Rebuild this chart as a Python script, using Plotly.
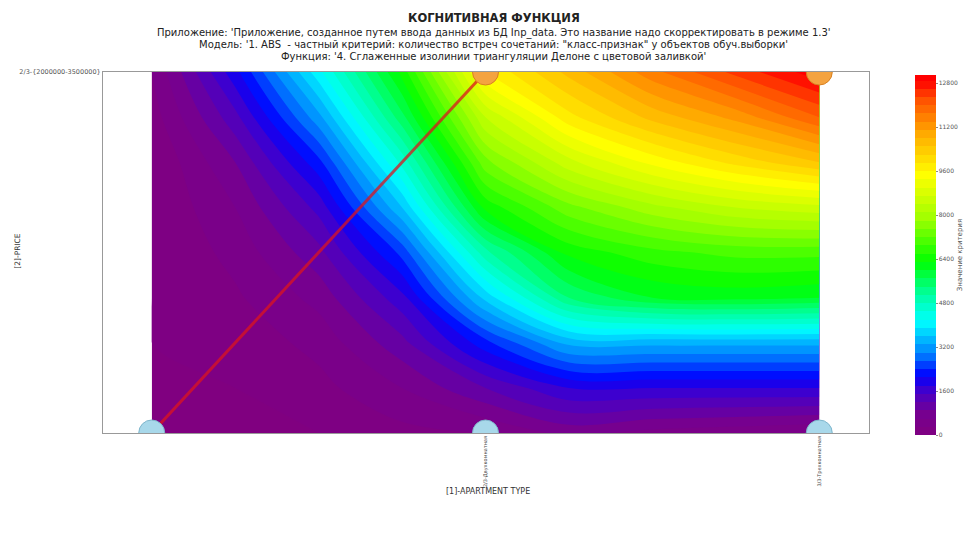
import plotly.graph_objects as go

# ---- data -------------------------------------------------------------
# category positions of the two factors
apartment_pos = [1, 2, 3]
apartment_labels = ["1/3-Однокомнатная", "2/3-Двухкомнатная", "3/3-Трехкомнатная"]
price_pos = [1, 2]
price_labels = ["1/3-{1000000-2000000}", "2/3-{2000000-3500000}"]

# observed class-feature points (x = apartment type, y = price)
pts_low_x = [1, 2, 3]
pts_low_y = [1, 1, 1]
pts_high_x = [2, 3]
pts_high_y = [2, 2]

# smoothed surface sampled on a regular grid
grid_x = [1.0, 1.25, 1.5, 1.75, 2.0, 2.25, 2.5, 2.75, 3.0]
grid_y = [1.0, 1.125, 1.25, 1.375, 1.5, 1.625, 1.75, 1.875, 2.0]
# one list per column, values from y=2.0 (top) down to y=1.0 (bottom)
col_x100 = [300, 150, 0, 0, 0, 0, 0, 0, 0]
col_x125 = [2000, 1400, 900, 600, 400, 250, 100, 0, 0]
col_x150 = [4100, 3200, 2300, 1600, 1100, 700, 400, 200, 0]
col_x175 = [6400, 5600, 4600, 3600, 2500, 1700, 1100, 600, 200]
col_x200 = [9600, 8400, 7400, 6400, 5000, 3700, 2300, 1200, 300]
col_x225 = [10600, 9800, 8600, 7400, 6400, 5400, 3400, 1800, 700]
col_x250 = [11600, 10600, 9400, 8000, 6800, 6000, 3400, 1800, 500]
col_x275 = [12400, 11200, 10000, 8400, 7000, 6100, 3400, 1800, 400]
col_x300 = [13100, 12000, 10500, 8600, 7000, 6000, 3400, 1800, 300]

cbar_ticks = [0, 1600, 3200, 4800, 6400, 8000, 9600, 11200, 12800]
z_max = 13100

columns = [col_x100, col_x125, col_x150, col_x175, col_x200,
           col_x225, col_x250, col_x275, col_x300]
# rows ordered bottom -> top to match grid_y
z_rows = [[col[len(grid_y) - 1 - j] for col in columns] for j in range(len(grid_y))]

# purple -> blue -> cyan -> green -> yellow -> orange -> red
stops = [
    (0, "#800080"), (800, "#760090"), (1600, "#4600c8"), (2200, "#0000ff"),
    (3000, "#0080ff"), (4200, "#00ffff"), (5200, "#00ffa0"), (6400, "#00ff00"),
    (8000, "#a0ff00"), (9600, "#ffff00"), (11200, "#ffa500"), (12400, "#ff5000"),
    (13100, "#ff0000"),
]
colorscale = [[v / z_max, c] for v, c in stops]

fig = go.Figure()

fig.add_trace(go.Contour(
    x=grid_x, y=grid_y, z=z_rows,
    colorscale=colorscale, zmin=0, zmax=z_max, zauto=False,
    autocontour=False,
    contours=dict(start=0, end=z_max, size=300, coloring="fill", showlines=False),
    line=dict(width=0),
    colorbar=dict(
        x=1.0596, xanchor="left", xpad=0,
        y=0.493, yanchor="middle", ypad=0,
        len=0.997, lenmode="fraction", thickness=21,
        outlinewidth=0,
        tickvals=cbar_ticks, ticktext=[str(t) for t in cbar_ticks],
        tickfont=dict(size=6, color="#555", family="DejaVu Sans"),
        ticks="outside", ticklen=2, tickcolor="#888",
        title=dict(text="Значение критерия", side="right",
                   font=dict(size=7, color="#555", family="DejaVu Sans")),
    ),
    hoverinfo="skip",
))

# diagonal link between the first and the fourth point
fig.add_trace(go.Scatter(
    x=[pts_low_x[0], pts_high_x[0]], y=[pts_low_y[0], pts_high_y[0]],
    mode="lines", line=dict(color="rgba(220,20,30,0.75)", width=3),
    showlegend=False, hoverinfo="skip",
))

fig.add_trace(go.Scatter(
    x=pts_low_x, y=pts_low_y, mode="markers",
    marker=dict(size=26, color="#a8d8ea", line=dict(color="#7fb6cc", width=1)),
    showlegend=False, cliponaxis=True,
))
fig.add_trace(go.Scatter(
    x=pts_high_x, y=pts_high_y, mode="markers",
    marker=dict(size=26, color="#f4a340", line=dict(color="#d98020", width=1)),
    showlegend=False, cliponaxis=True,
))

font_family = "DejaVu Sans"
fig.update_layout(
    width=976, height=555,
    margin=dict(l=103, r=101, t=72, b=122),
    paper_bgcolor="white", plot_bgcolor="white",
    font=dict(family=font_family, color="#222"),
    showlegend=False,
    xaxis=dict(
        range=[0.854, 3.149], tickvals=apartment_pos[1:], ticktext=apartment_labels[1:],
        tickangle=-90, tickfont=dict(size=5, color="#444"),
        showgrid=False, zeroline=False,
        showline=True, linecolor="#999", linewidth=1, mirror=True,
        ticks="", fixedrange=True,
    ),
    yaxis=dict(
        range=[1, 2], tickvals=price_pos[1:], ticktext=price_labels[1:],
        tickfont=dict(size=6.5, color="#555"),
        showgrid=False, zeroline=False,
        showline=True, linecolor="#999", linewidth=1, mirror=True,
        ticks="", fixedrange=True,
    ),
)

title_lines = [
    ("<b>КОГНИТИВНАЯ ФУНКЦИЯ</b>", 1.149, 11.5),
    ("Приложение: 'Приложение, созданное путем ввода данных из БД Inp_data. "
     "Это название надо скорректировать в режиме 1.3'", 1.108, 10),
    ("Модель: '1. ABS  - частный критерий: количество встреч сочетаний: "
     "\"класс-признак\" у объектов обуч.выборки'", 1.075, 10),
    ("Функция: '4. Сглаженные изолинии триангуляции Делоне с цветовой заливкой'",
     1.043, 10),
]
for text, ypos, size in title_lines:
    fig.add_annotation(
        text=text, x=0.51, y=ypos, xref="paper", yref="paper",
        xanchor="center", yanchor="middle", showarrow=False,
        font=dict(size=size, color="#222", family=font_family),
    )

fig.add_annotation(
    text="[1]-APARTMENT TYPE", x=0.502, y=-0.163, xref="paper", yref="paper",
    xanchor="center", yanchor="middle", showarrow=False,
    font=dict(size=8, color="#333", family=font_family),
)
fig.add_annotation(
    text="[2]-PRICE", x=-0.111, y=0.505, xref="paper", yref="paper",
    xanchor="center", yanchor="middle", showarrow=False, textangle=-90,
    font=dict(size=7.5, color="#333", family=font_family),
)

fig.write_html("out.html")
